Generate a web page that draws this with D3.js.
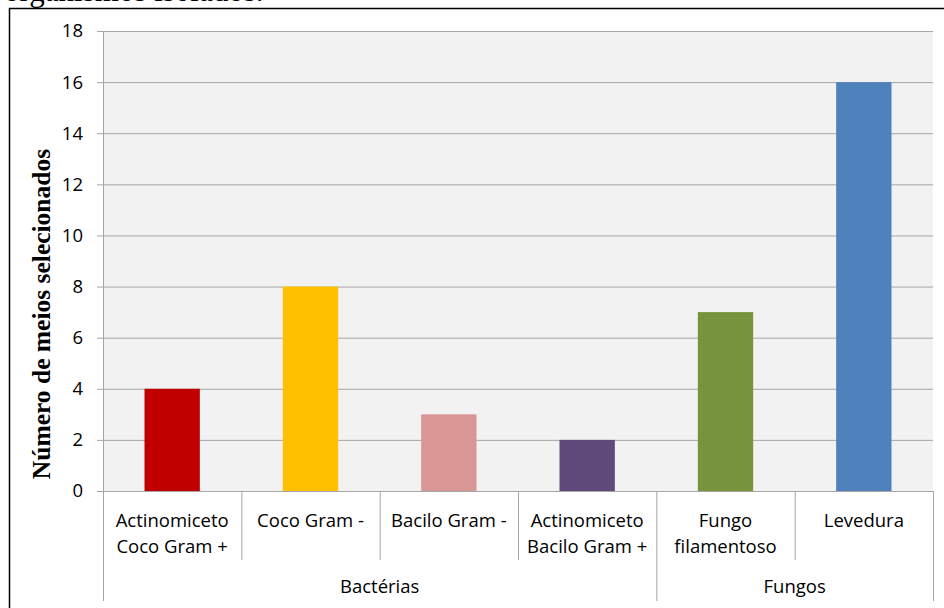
<!DOCTYPE html>
<html>
<head>
<meta charset="utf-8">
<script src="https://cdn.jsdelivr.net/npm/d3@7"></script>
<style>
  html, body { margin: 0; padding: 0; background: #fff; }
  svg { display: block; }
</style>
</head>
<body>
<svg id="chart" width="944" height="608"></svg>
<script>
// Data
const categories = [
  ["Actinomiceto", "Coco Gram +"],
  ["Coco Gram -"],
  ["Bacilo Gram -"],
  ["Actinomiceto", "Bacilo Gram +"],
  ["Fungo", "filamentoso"],
  ["Levedura"]
];
const values = [4, 8, 3, 2, 7, 16];
const colors = ["#c00000", "#ffc000", "#da9694", "#604a7b", "#77933c", "#4f81bd"];
const groups = [
  { name: "Bactérias", start: 0, end: 4 },
  { name: "Fungos", start: 4, end: 6 }
];
const yTicks = [0, 2, 4, 6, 8, 10, 12, 14, 16, 18];
const yTitle = "Número de meios selecionados";
const caption = "organismos isolados.";

const svg = d3.select("#chart");
const labelFont = "'Open Sans', 'Lato', sans-serif";
const labelSize = 18.5;

const plot = { left: 103, right: 933, top: 31, bottom: 491 };

const x = d3.scaleBand()
  .domain(d3.range(categories.length))
  .range([plot.left, plot.right])
  .paddingInner(0)
  .paddingOuter(0);

const y = d3.scaleLinear()
  .domain([0, 18])
  .range([plot.bottom, plot.top]);

// Caption line of the surrounding text, partly above the top edge
svg.append("text")
  .attr("x", 4)
  .attr("y", 1)
  .attr("font-family", "'Liberation Serif', 'Times New Roman', serif")
  .attr("font-size", 31)
  .attr("fill", "#000")
  .text(caption);

// Outer frame
svg.append("path")
  .attr("d", "M9.5,612 L9.5,8.5 L948,8.5")
  .attr("fill", "none")
  .attr("stroke", "#000")
  .attr("stroke-width", 1.5);

// Plot background
svg.append("rect")
  .attr("x", plot.left)
  .attr("y", plot.top)
  .attr("width", plot.right - plot.left)
  .attr("height", plot.bottom - plot.top)
  .attr("fill", "#f2f2f2");

// Y axis with gridlines
const yAxis = d3.axisLeft(y)
  .tickValues(yTicks)
  .tickSize(plot.right - plot.left + 6)
  .tickPadding(14)
  .tickFormat(d3.format("d"));

const gy = svg.append("g")
  .attr("transform", `translate(${plot.right},0)`)
  .call(yAxis);
gy.select(".domain").remove();
gy.selectAll(".tick line").attr("stroke", "#a6a6a6").attr("stroke-width", 1);
gy.selectAll(".tick text")
  .attr("font-family", labelFont)
  .attr("font-size", labelSize)
  .attr("fill", "#000");

// Vertical axis line
svg.append("line")
  .attr("x1", plot.left + 0.5).attr("x2", plot.left + 0.5)
  .attr("y1", plot.top).attr("y2", plot.bottom)
  .attr("stroke", "#a6a6a6");

// Bars
svg.append("g")
  .selectAll("rect")
  .data(values)
  .join("rect")
  .attr("x", (d, i) => x(i) + x.bandwidth() * 0.3)
  .attr("width", x.bandwidth() * 0.4)
  .attr("y", d => y(d))
  .attr("height", d => y(0) - y(d))
  .attr("fill", (d, i) => colors[i]);

// Category separators below the axis
const sep = svg.append("g").attr("stroke", "#a6a6a6").attr("stroke-width", 1);
const groupEdges = new Set([0, ...groups.map(g => g.end)]);
d3.range(categories.length + 1).forEach(i => {
  const xx = (i < categories.length ? x(i) : plot.right) + 0.5;
  sep.append("line")
    .attr("x1", xx).attr("x2", xx)
    .attr("y1", plot.bottom)
    .attr("y2", groupEdges.has(i) ? 601 : 560);
});

// Category labels
const catG = svg.append("g")
  .attr("font-family", labelFont)
  .attr("font-size", labelSize)
  .attr("fill", "#000")
  .attr("text-anchor", "middle");
categories.forEach((lines, i) => {
  lines.forEach((line, j) => {
    catG.append("text")
      .attr("x", x(i) + x.bandwidth() / 2)
      .attr("y", 527 + j * 26)
      .text(line);
  });
});

// Group labels
groups.forEach(g => {
  const x0 = x(g.start);
  const x1 = g.end < categories.length ? x(g.end) : plot.right;
  catG.append("text")
    .attr("x", (x0 + x1) / 2)
    .attr("y", 593)
    .text(g.name);
});

// Horizontal axis line
svg.append("line")
  .attr("x1", plot.left - 6).attr("x2", plot.right)
  .attr("y1", plot.bottom + 0.5).attr("y2", plot.bottom + 0.5)
  .attr("stroke", "#a6a6a6");

// Y axis title
svg.append("text")
  .attr("transform", `translate(50,314) rotate(-90)`)
  .attr("text-anchor", "middle")
  .attr("font-family", "'Liberation Serif', 'Times New Roman', serif")
  .attr("font-weight", "bold")
  .attr("font-size", 25.5)
  .attr("fill", "#000")
  .text(yTitle);
</script>
</body>
</html>
